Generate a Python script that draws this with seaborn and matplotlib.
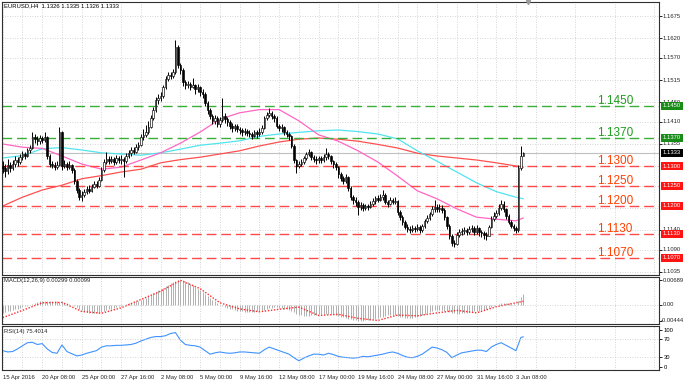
import matplotlib

matplotlib.use('agg')
import matplotlib.pyplot as plt
import matplotlib.transforms as mtransforms
import numpy as np
import pandas as pd
import seaborn as sns

# H4 bars, 15 Apr 2016 16:00 .. 3 Jun 2016 20:00
first_open = 1.1300
closes = [
    1.1295, 1.1288, 1.1302, 1.1296, 1.1306, 1.1315, 1.1310, 1.1322, 1.1330, 1.1325,
    1.1340, 1.1345, 1.1372, 1.1368, 1.1362, 1.1370, 1.1365, 1.1372, 1.1325, 1.1305,
    1.1302, 1.1298, 1.1303, 1.1385, 1.1300, 1.1305, 1.1298, 1.1302, 1.1290, 1.1262,
    1.1240, 1.1222, 1.1228, 1.1235, 1.1242, 1.1238, 1.1248, 1.1255, 1.1250, 1.1265,
    1.1290, 1.1310, 1.1318, 1.1312, 1.1318, 1.1310, 1.1320, 1.1315, 1.1318, 1.1312,
    1.1325, 1.1332, 1.1340, 1.1336, 1.1348, 1.1352, 1.1372, 1.1378, 1.1385, 1.1398,
    1.1420, 1.1440, 1.1465, 1.1470, 1.1476, 1.1497, 1.1518, 1.1528, 1.1525, 1.1535,
    1.1598, 1.1552, 1.1540, 1.1510, 1.1502, 1.1505, 1.1498, 1.1502, 1.1492, 1.1498,
    1.1485, 1.1480, 1.1458, 1.1440, 1.1425, 1.1412, 1.1420, 1.1405, 1.1415, 1.1425,
    1.1418, 1.1410, 1.1400, 1.1395, 1.1400, 1.1392, 1.1390, 1.1385, 1.1388, 1.1382,
    1.1380, 1.1376, 1.1385, 1.1380, 1.1386, 1.1395, 1.1420, 1.1428, 1.1432, 1.1425,
    1.1420, 1.1400, 1.1395, 1.1398, 1.1385, 1.1380, 1.1374, 1.1350, 1.1315, 1.1300,
    1.1305, 1.1310, 1.1320, 1.1330, 1.1334, 1.1322, 1.1318, 1.1314, 1.1320, 1.1316,
    1.1322, 1.1330, 1.1325, 1.1312, 1.1305, 1.1298, 1.1280, 1.1270, 1.1262, 1.1272,
    1.1245, 1.1222, 1.1215, 1.1210, 1.1198, 1.1202, 1.1196, 1.1200, 1.1197, 1.1205,
    1.1212, 1.1220, 1.1215, 1.1222, 1.1228, 1.1210, 1.1205, 1.1216, 1.1210, 1.1212,
    1.1185, 1.1172, 1.1160, 1.1148, 1.1142, 1.1140, 1.1145, 1.1142, 1.1148, 1.1140,
    1.1150, 1.1162, 1.1170, 1.1180, 1.1192, 1.1198, 1.1192, 1.1196, 1.1190, 1.1172,
    1.1150, 1.1125, 1.1108, 1.1105, 1.1128, 1.1135, 1.1138, 1.1140, 1.1135, 1.1142,
    1.1145, 1.1136, 1.1145, 1.1134, 1.1132, 1.1128, 1.1126, 1.1148, 1.1168, 1.1176,
    1.1182, 1.1196, 1.1205, 1.1192, 1.1175, 1.1160, 1.1150, 1.1146, 1.1140, 1.1296,
    1.1326, 1.1333,
]
highs = [
    1.1312, 1.1305, 1.1318, 1.1310, 1.1316, 1.1325, 1.1322, 1.1330, 1.1338, 1.1336,
    1.1346, 1.1352, 1.1385, 1.1380, 1.1374, 1.1378, 1.1376, 1.1386, 1.1374, 1.1330,
    1.1312, 1.1310, 1.1312, 1.1397, 1.1388, 1.1315, 1.1310, 1.1312, 1.1305, 1.1295,
    1.1268, 1.1245, 1.1238, 1.1242, 1.1250, 1.1252, 1.1256, 1.1262, 1.1262, 1.1272,
    1.1298, 1.1318, 1.1335, 1.1325, 1.1326, 1.1322, 1.1328, 1.1326, 1.1328, 1.1322,
    1.1332, 1.1340, 1.1348, 1.1348, 1.1356, 1.1360, 1.1380, 1.1392, 1.1402, 1.1412,
    1.1428, 1.1448, 1.1472, 1.1480, 1.1484, 1.1502, 1.1526, 1.1536, 1.1535, 1.1542,
    1.1615, 1.1602, 1.1558, 1.1545, 1.1515, 1.1512, 1.1510, 1.1520, 1.1505, 1.1506,
    1.1500, 1.1492, 1.1484, 1.1462, 1.1445, 1.1430, 1.1428, 1.1424, 1.1422, 1.1470,
    1.1432, 1.1422, 1.1415, 1.1408, 1.1406, 1.1404, 1.1398, 1.1396, 1.1396, 1.1392,
    1.1390, 1.1386, 1.1390, 1.1390, 1.1394, 1.1402, 1.1426, 1.1436, 1.1445, 1.1438,
    1.1430, 1.1424, 1.1405, 1.1404, 1.1400, 1.1390, 1.1385, 1.1378, 1.1355, 1.1318,
    1.1312, 1.1318, 1.1326, 1.1336, 1.1342, 1.1338, 1.1328, 1.1325, 1.1326, 1.1326,
    1.1330, 1.1345, 1.1336, 1.1328, 1.1316, 1.1310, 1.1300, 1.1285, 1.1276, 1.1280,
    1.1276, 1.1250, 1.1228, 1.1222, 1.1215, 1.1210, 1.1208, 1.1206, 1.1205, 1.1212,
    1.1220, 1.1226, 1.1228, 1.1230, 1.1240, 1.1232, 1.1215, 1.1222, 1.1220, 1.1222,
    1.1215, 1.1190, 1.1178, 1.1166, 1.1155, 1.1150, 1.1152, 1.1150, 1.1155, 1.1152,
    1.1156, 1.1168, 1.1178, 1.1186, 1.1200, 1.1215, 1.1204, 1.1206, 1.1202, 1.1195,
    1.1176, 1.1155, 1.1130, 1.1115, 1.1134, 1.1142, 1.1145, 1.1148, 1.1146, 1.1150,
    1.1152, 1.1150, 1.1152, 1.1148, 1.1140, 1.1138, 1.1134, 1.1152, 1.1174, 1.1184,
    1.1190, 1.1204, 1.1215, 1.1212, 1.1196, 1.1180, 1.1166, 1.1155, 1.1150, 1.1302,
    1.1350, 1.1335,
]
lows = [
    1.1282, 1.1272, 1.1280, 1.1285, 1.1290, 1.1298, 1.1300, 1.1305, 1.1315, 1.1318,
    1.1322, 1.1332, 1.1342, 1.1358, 1.1352, 1.1355, 1.1358, 1.1360, 1.1318, 1.1298,
    1.1295, 1.1290, 1.1292, 1.1300, 1.1290, 1.1295, 1.1290, 1.1292, 1.1282, 1.1255,
    1.1232, 1.1215, 1.1213, 1.1222, 1.1230, 1.1232, 1.1236, 1.1244, 1.1246, 1.1248,
    1.1262, 1.1286, 1.1305, 1.1304, 1.1308, 1.1302, 1.1306, 1.1308, 1.1305, 1.1272,
    1.1308, 1.1320, 1.1326, 1.1330, 1.1332, 1.1340, 1.1350, 1.1366, 1.1372, 1.1380,
    1.1395, 1.1416, 1.1436, 1.1455, 1.1462, 1.1470, 1.1492, 1.1512, 1.1518, 1.1520,
    1.1530, 1.1545, 1.1530, 1.1500, 1.1492, 1.1494, 1.1490, 1.1494, 1.1480, 1.1486,
    1.1475, 1.1470, 1.1450, 1.1430, 1.1418, 1.1405, 1.1405, 1.1398, 1.1398, 1.1410,
    1.1408, 1.1400, 1.1392, 1.1386, 1.1388, 1.1384, 1.1380, 1.1376, 1.1378, 1.1374,
    1.1372, 1.1368, 1.1372, 1.1370, 1.1375, 1.1380, 1.1392, 1.1415, 1.1422, 1.1418,
    1.1410, 1.1395, 1.1388, 1.1386, 1.1378, 1.1372, 1.1366, 1.1345, 1.1308, 1.1283,
    1.1295, 1.1300, 1.1304, 1.1315, 1.1324, 1.1316, 1.1310, 1.1306, 1.1308, 1.1308,
    1.1310, 1.1316, 1.1318, 1.1306, 1.1296, 1.1290, 1.1270, 1.1262, 1.1255, 1.1258,
    1.1238, 1.1215, 1.1205, 1.1200, 1.1178, 1.1190, 1.1188, 1.1190, 1.1190, 1.1194,
    1.1200, 1.1206, 1.1210, 1.1212, 1.1215, 1.1204, 1.1198, 1.1202, 1.1204, 1.1205,
    1.1178, 1.1165, 1.1152, 1.1142, 1.1135, 1.1132, 1.1136, 1.1134, 1.1138, 1.1133,
    1.1136, 1.1146, 1.1158, 1.1165, 1.1175, 1.1186, 1.1184, 1.1186, 1.1182, 1.1165,
    1.1142, 1.1118, 1.1100, 1.1097, 1.1102, 1.1122, 1.1128, 1.1130, 1.1128, 1.1130,
    1.1135, 1.1128, 1.1130, 1.1126, 1.1122, 1.1118, 1.1115, 1.1124, 1.1144, 1.1162,
    1.1170, 1.1178, 1.1190, 1.1185, 1.1168, 1.1154, 1.1144, 1.1138, 1.1132, 1.1136,
    1.1290, 1.1326,
]

# moving averages, read every 8 bars (+ last bar)
ma_bars = list(range(0, 209, 8)) + [211]
ma_pink = [1.1355, 1.1347, 1.1344, 1.1325, 1.1305, 1.1292, 1.1297, 1.1315, 1.1333, 1.1357,
           1.1385, 1.1417, 1.1433, 1.1441, 1.1441, 1.1413, 1.1378, 1.1362, 1.1338, 1.1310,
           1.1275, 1.1238, 1.1218, 1.1193, 1.1172, 1.1167, 1.1163, 1.1170]
ma_cyan = [1.1320, 1.1326, 1.1343, 1.1346, 1.1340, 1.1333, 1.1330, 1.1327, 1.1333, 1.1342,
           1.1352, 1.1357, 1.1363, 1.1374, 1.1380, 1.1384, 1.1388, 1.1390, 1.1386, 1.1380,
           1.1368, 1.1338, 1.1312, 1.1285, 1.1258, 1.1236, 1.1222, 1.1218]
ma_red = [1.1200, 1.1222, 1.1240, 1.1252, 1.1268, 1.1276, 1.1285, 1.1292, 1.1308, 1.1316,
          1.1322, 1.1330, 1.1338, 1.1350, 1.1360, 1.1367, 1.1370, 1.1367, 1.1362, 1.1354,
          1.1345, 1.1332, 1.1325, 1.1320, 1.1315, 1.1308, 1.1300, 1.1297]

# MACD main (histogram) per bar and signal line, in units of 0.0001
macd_main = [
    -22, -20, -18, -16, -14, -12, -10, -8, -6, -4,
    -2, 0, 3, 6, 8, 10, 11, 12, 12, 12,
    12, 11, 10, 9, 8, 6, 4, 2, 0, -3,
    -7, -11, -14, -17, -19, -21, -22, -23, -23, -22,
    -20, -17, -14, -12, -10, -8, -6, -4, -2, 0,
    2, 4, 6, 8, 10, 12, 14, 17, 20, 24,
    28, 32, 36, 40, 44, 48, 52, 56, 60, 63,
    66, 68, 69, 68, 66, 63, 59, 55, 50, 45,
    40, 35, 30, 25, 20, 15, 10, 5, 1, -2,
    -5, -8, -10, -12, -14, -16, -17, -18, -19, -20,
    -20, -20, -19, -18, -17, -15, -13, -11, -9, -8,
    -7, -7, -8, -9, -10, -11, -13, -16, -20, -24,
    -27, -29, -30, -30, -30, -29, -28, -27, -26, -26,
    -25, -24, -24, -25, -26, -28, -30, -32, -34, -36,
    -38, -40, -42, -43, -44, -44, -44, -43, -42, -41,
    -40, -38, -36, -34, -32, -30, -29, -28, -28, -29,
    -30, -32, -34, -35, -36, -36, -35, -34, -32, -30,
    -28, -25, -22, -19, -16, -14, -13, -13, -14, -16,
    -18, -20, -22, -23, -24, -24, -23, -22, -21, -20,
    -19, -18, -17, -16, -15, -14, -12, -9, -6, -3,
    0, 2, 4, 5, 5, 4, 3, 2, 1, 12,
    22, 30,
]
macd_signal = [-35, -15, 6, 7, -18, -23, -8, 15, 38, 68, 45, 6, -11, -19, -12, -6, -29, -26,
               -37, -43, -28, -30, -22, -15, -22, -5, 6, 10]

# RSI(14), read every 2 bars (+ last bar)
rsi_bars = list(range(0, 211, 2)) + [211]
rsi = [44, 41, 42, 48, 55, 62, 63, 58, 60, 48, 40, 38, 57, 42, 37, 32, 34, 38, 41, 44,
       52, 55, 55, 56, 56, 57, 58, 61, 66, 70, 74, 76, 76, 78, 83, 85, 68, 58, 56, 55,
       52, 44, 36, 39, 41, 39, 38, 39, 41, 41, 40, 39, 38, 46, 52, 48, 44, 40, 36, 28,
       21, 27, 32, 36, 36, 34, 38, 35, 31, 29, 28, 27, 28, 31, 30, 32, 34, 36, 39, 41,
       38, 33, 29, 28, 31, 36, 44, 52, 50, 46, 40, 28, 34, 39, 41, 43, 45, 45, 42, 52,
       58, 62, 56, 50, 44, 74, 75.4]

# price scale labels (the ones not hidden under the level boxes)
price_grid = [1.1675, 1.1620, 1.1570, 1.1515, 1.1460, 1.1410, 1.1355, 1.1300, 1.1250,
              1.1195, 1.1140, 1.1090, 1.1035]
price_labels = [1.1675, 1.1620, 1.1570, 1.1515, 1.1460, 1.1410, 1.1355, 1.1140, 1.1090,
                1.1035]
green_levels = [1.1450, 1.1370]
red_levels = [1.1300, 1.1250, 1.1200, 1.1130, 1.1070]
last_price = 1.1333
time_labels = ['15 Apr 2016', '20 Apr 08:00', '25 Apr 00:00', '27 Apr 16:00', '2 May 08:00',
               '5 May 00:00', '9 May 16:00', '12 May 08:00', '17 May 00:00', '19 May 16:00',
               '24 May 08:00', '27 May 00:00', '31 May 16:00', '3 Jun 08:00']

sns.set_style('white')
plt.rcParams['font.family'] = ['Liberation Sans', 'DejaVu Sans']

W, H = 685, 384


def box(x0, y0, x1, y1):
    return [x0 / W, 1 - y1 / H, (x1 - x0) / W, (y1 - y0) / H]


fig = plt.figure(figsize=(6.85, 3.84), dpi=100)
ax = fig.add_axes(box(2, 2, 659, 275))
ax_macd = fig.add_axes(box(2, 277, 659, 324), sharex=ax)
ax_rsi = fig.add_axes(box(2, 326, 659, 370), sharex=ax)

small = 4.2
grid_kw = dict(color='#c8c8c8', linestyle=(0, (1, 2)), linewidth=0.6)
label_x = 1.0061   # just right of the price axis line

df = pd.DataFrame({'high': highs, 'low': lows, 'close': closes})
df['bar'] = np.arange(len(df))
df['open'] = [first_open] + closes[:-1]
up = df['close'] >= df['open']

# candles
ax.vlines(df['bar'], df['low'], df['high'], color='black', lw=0.7, zorder=3)
ax.bar(df['bar'][up], (df['close'] - df['open'])[up], bottom=df['open'][up], width=0.62,
       color='white', edgecolor='black', lw=0.45, zorder=4)
ax.bar(df['bar'][~up], (df['close'] - df['open'])[~up], bottom=df['open'][~up], width=0.62,
       color='black', edgecolor='black', lw=0.45, zorder=4)

# moving averages
sns.lineplot(x=ma_bars, y=ma_red, ax=ax, color='#ff5050', lw=0.9, zorder=2)
sns.lineplot(x=ma_bars, y=ma_cyan, ax=ax, color='#52e4ee', lw=0.9, zorder=2)
sns.lineplot(x=ma_bars, y=ma_pink, ax=ax, color='#ff66c4', lw=0.9, zorder=2)

ax.axhline(last_price, color='#c0c0c0', lw=0.8, zorder=1)

ylo = 1.1675 - (275 - 16) / 4000
yhi = 1.1675 + (16 - 2) / 4000
ax.set_ylim(ylo, yhi)

lab_tr = mtransforms.blended_transform_factory(ax.transAxes, ax.transData)
for lv in price_grid:
    ax.axhline(lv, zorder=0, **grid_kw)
for lv in price_labels:
    ax.text(label_x, lv, f'{lv:.4f}', transform=lab_tr, fontsize=small, va='center',
            ha='left', clip_on=False)
ax.set_yticks(price_labels)
ax.set_yticklabels([])

for lv in green_levels:
    ax.axhline(lv, color='#3aae3a', lw=1.0, ls=(0, (7, 3.5)), zorder=2)
    ax.text(0.9056, lv + 0.0006, f'{lv:.4f}', transform=lab_tr, color='#1f9e1f',
            fontsize=8.5, va='baseline', ha='left')
    ax.text(label_x, lv, f'{lv:.4f}', transform=lab_tr, color='white', fontsize=small,
            va='center', ha='left', clip_on=False, zorder=10,
            bbox=dict(boxstyle='square,pad=0.3', fc='#178c17', ec='#178c17', lw=0))
for lv in red_levels:
    ax.axhline(lv, color='#ff4a4a', lw=1.0, ls=(0, (7, 3.5)), zorder=2)
    ax.text(0.9056, lv + 0.0006, f'{lv:.4f}', transform=lab_tr, color='#ff4000',
            fontsize=8.5, va='baseline', ha='left')
    ax.text(label_x, lv, f'{lv:.4f}', transform=lab_tr, color='white', fontsize=small,
            va='center', ha='left', clip_on=False, zorder=10,
            bbox=dict(boxstyle='square,pad=0.3', fc='#ff1414', ec='#ff1414', lw=0))
ax.text(label_x, last_price, f'{last_price:.4f}', transform=lab_tr, color='white',
        fontsize=small, va='center', ha='left', clip_on=False, zorder=10,
        bbox=dict(boxstyle='square,pad=0.3', fc='black', ec='black', lw=0))

ax.text(0.003, 0.985, 'EURUSD,H4  1.1326 1.1335 1.1326 1.1333', transform=ax.transAxes,
        fontsize=small, va='center', ha='left', color='black')
ax.plot([213], [yhi], marker='v', ms=3, color='#9a9a9a', clip_on=False, zorder=10)

# MACD
macd_vals = np.array(macd_main) * 1e-4
ax_macd.vlines(df['bar'], 0, macd_vals, color='#b0b0b0', lw=0.7)
sns.lineplot(x=ma_bars, y=np.array(macd_signal) * 1e-4, ax=ax_macd, color='#ff2a2a', lw=1.0,
             linestyle=(0, (1, 1.2)))
ax_macd.set_ylim(-0.00444 - 3 / 3618.7, 0.00689 + 3 / 3618.7)
ax_macd.axhline(0, **grid_kw)
ax_macd.set_yticks([0.00689, 0.0, -0.00444])
ax_macd.set_yticklabels([])
macd_tr = mtransforms.blended_transform_factory(ax_macd.transAxes, ax_macd.transData)
ax_macd.text(label_x, 0.00689, '0.00689', transform=macd_tr, fontsize=small, va='center',
             ha='left', clip_on=False)
ax_macd.text(label_x, 0.0, '0.00', transform=macd_tr, fontsize=small, va='center',
             ha='left', clip_on=False)
ax_macd.text(1.0385, -0.00444, '-0.00444', transform=macd_tr, fontsize=small, va='center',
             ha='right', clip_on=False)
ax_macd.text(0.003, 0.915, 'MACD(12,26,9) 0.00299 0.00099', transform=ax_macd.transAxes,
             fontsize=small, va='center', ha='left')

# RSI
sns.lineplot(x=rsi_bars, y=rsi, ax=ax_rsi, color='#3f93ff', lw=0.8)
ax_rsi.set_ylim(0, 100)
ax_rsi.axhline(70, **grid_kw)
ax_rsi.axhline(30, **grid_kw)
ax_rsi.set_yticks([91, 70, 30, 7])
ax_rsi.set_yticklabels(['100', '70', '30', '0'])
ax_rsi.text(0.003, 0.864, 'RSI(14) 75.4014', transform=ax_rsi.transAxes,
            fontsize=small, va='center', ha='left')

# time axis
ax_rsi.set_xticks(list(range(0, 209, 16)))
ax_rsi.set_xticklabels(time_labels)
ax_rsi.set_xticks(list(range(8, 266, 16)), minor=True)
for lab in ax_rsi.get_xticklabels():
    lab.set_ha('left')

for a in (ax, ax_macd, ax_rsi):
    a.set_xlabel('')
    a.set_ylabel('')
    a.grid(True, axis='x', which='both', **grid_kw)
    a.yaxis.tick_right()
    a.tick_params(axis='y', length=2, width=0.6, pad=1.5, labelsize=small, colors='black')
    a.tick_params(axis='x', which='both', length=0, labelbottom=False)
    for s in a.spines.values():
        s.set_color('#303030')
        s.set_linewidth(0.8)
    a.set_axisbelow(True)
ax_rsi.tick_params(axis='x', which='major', length=2, width=0.6, pad=1.5, labelsize=small,
                   labelbottom=True)
ax.set_xlim(-0.3, 265.96)

fig.savefig('out.png', dpi=100, facecolor='white')
